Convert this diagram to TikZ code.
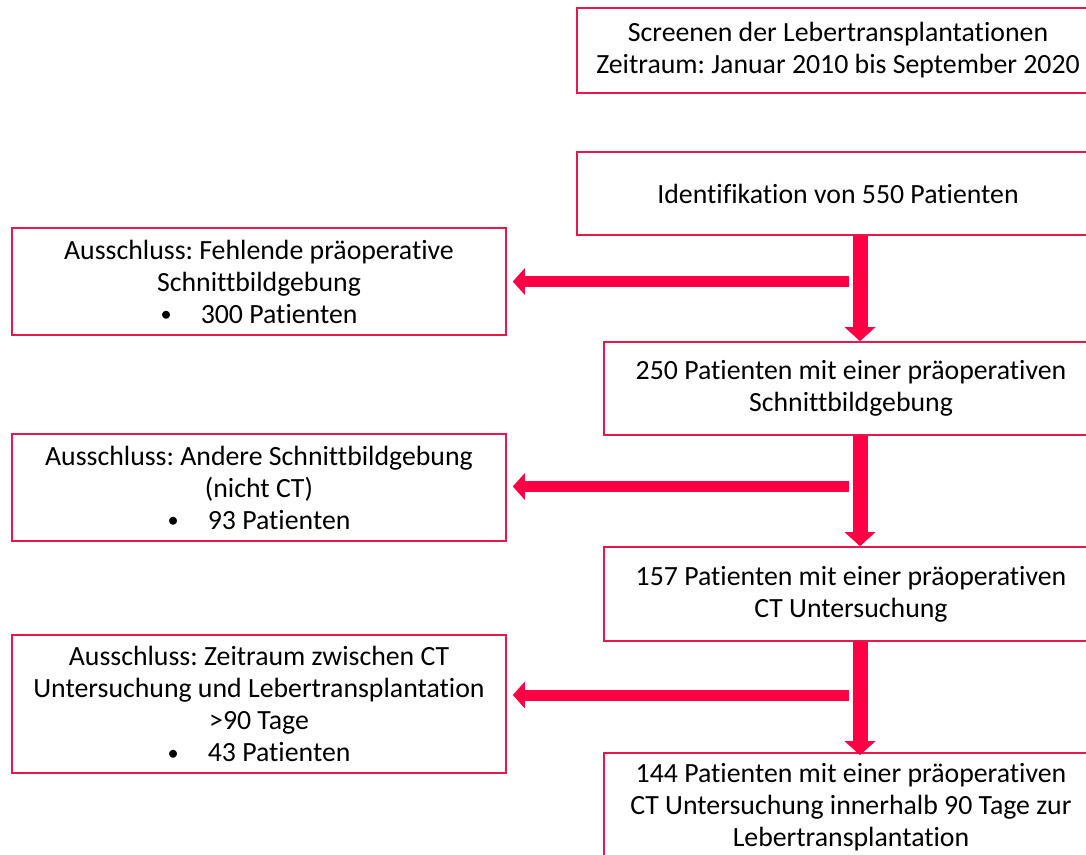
\documentclass[tikz,border=0pt]{standalone}
\usepackage{fontspec}
\setmainfont{Carlito}[Ligatures={NoCommon}]
\usetikzlibrary{arrows.meta}
\definecolor{boxred}{RGB}{232,24,76}
\definecolor{arrred}{RGB}{255,0,68}
\newcommand{\smbullet}{\raisebox{0.05em}{\scalebox{0.8}{•}}}
\frenchspacing
\begin{document}
\begin{tikzpicture}[x=1pt,y=-1pt,
  flowbox/.style={draw=boxred, line width=1.6pt, align=center, inner sep=0pt,
    font=\fontsize{27.8}{32}\selectfont},
  varrow/.style={draw=arrred, line width=15pt, -{Triangle[length=14pt,width=30pt]}},
  harrow/.style={draw=arrred, line width=11pt, -{Triangle[length=12pt,width=26pt]}}]
\useasboundingbox (0,0) rectangle (1086,854);
\clip (0,0) rectangle (1086,854);
\fill[white] (0,0) rectangle (1086,854);

\node[flowbox, minimum width=522pt, minimum height=85pt] (screen) at (838,50.5)
  {Screenen der Lebertransplantationen\\Zeitraum: Januar 2010 bis September 2020};
\node[flowbox, minimum width=522pt, minimum height=83pt] (ident) at (838,193.5)
  {Identifikation von 550 Patienten};
\node[flowbox, minimum width=494pt, minimum height=107pt] (ex1) at (259,281.5)
  {Ausschluss: Fehlende präoperative\\Schnittbildgebung\\\smbullet\hspace{1.05em}300 Patienten};
\node[flowbox, minimum width=494pt, minimum height=93pt] (n250) at (851,388.5)
  {250 Patienten mit einer präoperativen\\Schnittbildgebung};
\node[flowbox, minimum width=494pt, minimum height=107pt] (ex2) at (259,487.5)
  {Ausschluss: Andere Schnittbildgebung\\(nicht CT)\\\smbullet\hspace{1.05em}93 Patienten};
\node[flowbox, minimum width=494pt, minimum height=94pt] (n157) at (851,594)
  {157 Patienten mit einer präoperativen\\CT Untersuchung};
\node[flowbox, minimum width=494pt, minimum height=138pt] (ex3) at (259,704)
  {Ausschluss: Zeitraum zwischen CT\\Untersuchung und Lebertransplantation\\>90 Tage\\\smbullet\hspace{1.05em}43 Patienten};
\node[flowbox, minimum width=494pt, minimum height=109pt] (n144) at (851,807.5)
  {144 Patienten mit einer präoperativen\\CT Untersuchung innerhalb 90 Tage zur\\Lebertransplantation};

\coordinate (v1) at (860,0);
\coordinate (h1) at (849,281.5);
\coordinate (h2) at (849,486.5);
\coordinate (h3) at (849,695);

\draw[varrow] (v1 |- ident.south) -- (v1 |- n250.north);
\draw[varrow] (v1 |- n250.south) -- (v1 |- n157.north);
\draw[varrow] (v1 |- n157.south) -- ([yshift=-3pt]v1 |- n144.north);

\draw[harrow] (h1) -- ([xshift=6pt]h1 -| ex1.east);
\draw[harrow] (h2) -- ([xshift=6pt]h2 -| ex2.east);
\draw[harrow] (h3) -- ([xshift=6pt]h3 -| ex3.east);
\end{tikzpicture}
\end{document}
